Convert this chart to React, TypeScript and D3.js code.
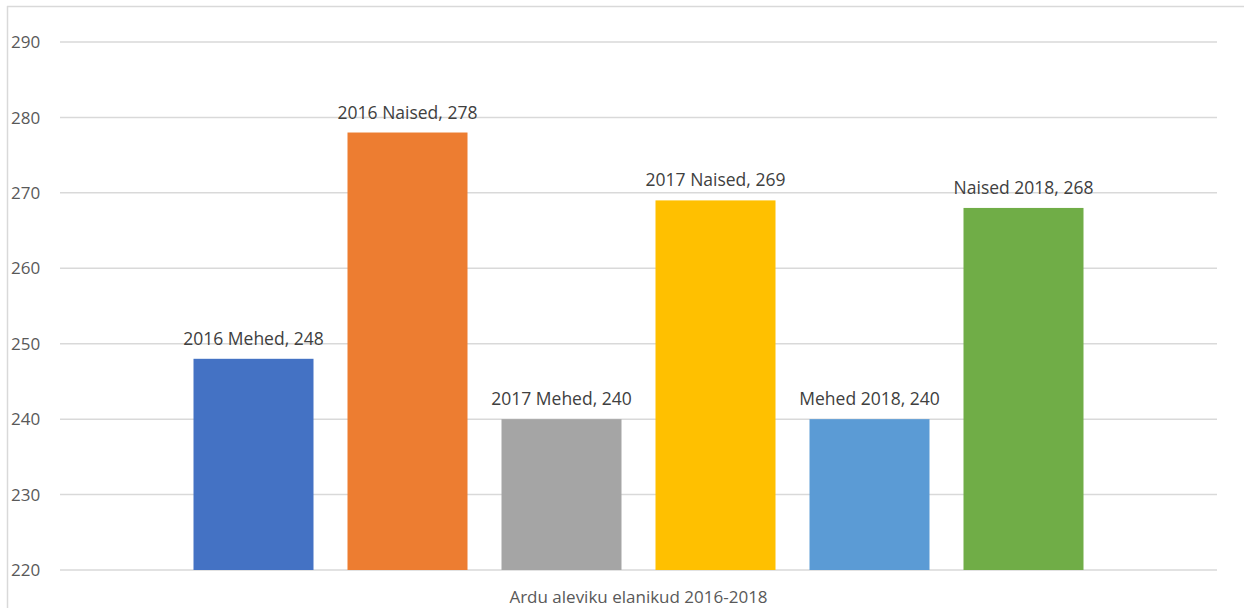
import * as d3 from "d3";

const category = "Ardu aleviku elanikud 2016-2018";
const seriesNames = [
  "2016 Mehed",
  "2016 Naised",
  "2017 Mehed",
  "2017 Naised",
  "Mehed 2018",
  "Naised 2018",
];
const seriesValues = [248, 278, 240, 269, 240, 268];
const seriesColors = ["#4472C4", "#ED7D31", "#A5A5A5", "#FFC000", "#5B9BD5", "#70AD47"];
const yTicks = [220, 230, 240, 250, 260, 270, 280, 290];

const W = 1244;
const H = 608;
const plot = { left: 60, right: 1217, top: 42, bottom: 570 };
const font = "'Open Sans', 'Noto Sans', sans-serif";

export default function App() {
  const y = d3.scaleLinear().domain([220, 290]).range([plot.bottom, plot.top]);

  // one category, bars of all series grouped inside it
  const x0 = d3
    .scaleBand()
    .domain([category])
    .range([plot.left, plot.right])
    .paddingOuter(0.15)
    .paddingInner(0);

  const x1 = d3
    .scaleBand()
    .domain(seriesNames)
    .range([0, x0.bandwidth()])
    .paddingInner(34 / 154)
    .paddingOuter(0);

  const groupStart = x0(category) ?? 0;

  return (
    <svg
      width={W}
      height={H}
      style={{ position: "fixed", left: 0, top: 0, background: "#fff" }}
    >
      {/* chart frame */}
      <line x1={7} x2={W} y1={6.5} y2={6.5} stroke="#d9d9d9" strokeWidth={1.5} />
      <line x1={7.5} x2={7.5} y1={6} y2={H} stroke="#d9d9d9" strokeWidth={1.5} />

      {yTicks.map((t) => (
        <g key={t}>
          <line
            x1={plot.left}
            x2={plot.right}
            y1={y(t)}
            y2={y(t)}
            stroke="#d9d9d9"
            strokeWidth={1.5}
          />
          <text
            x={11}
            y={y(t)}
            dy="0.36em"
            fontFamily={font}
            fontSize={17}
            fill="#595959"
          >
            {t}
          </text>
        </g>
      ))}

      {seriesNames.map((s, i) => {
        const bx = groupStart + (x1(s) ?? 0);
        const v = seriesValues[i];
        return (
          <g key={s}>
            <rect
              x={bx}
              y={y(v)}
              width={x1.bandwidth()}
              height={y(220) - y(v)}
              fill={seriesColors[i]}
            />
            <text
              x={bx + x1.bandwidth() / 2}
              y={y(v) - 14}
              textAnchor="middle"
              fontFamily={font}
              fontSize={17.5}
              fill="#404040"
            >
              {`${s}, ${v}`}
            </text>
          </g>
        );
      })}

      <text
        x={groupStart + x0.bandwidth() / 2}
        y={603}
        textAnchor="middle"
        fontFamily={font}
        fontSize={17}
        fill="#595959"
      >
        {category}
      </text>
    </svg>
  );
}
